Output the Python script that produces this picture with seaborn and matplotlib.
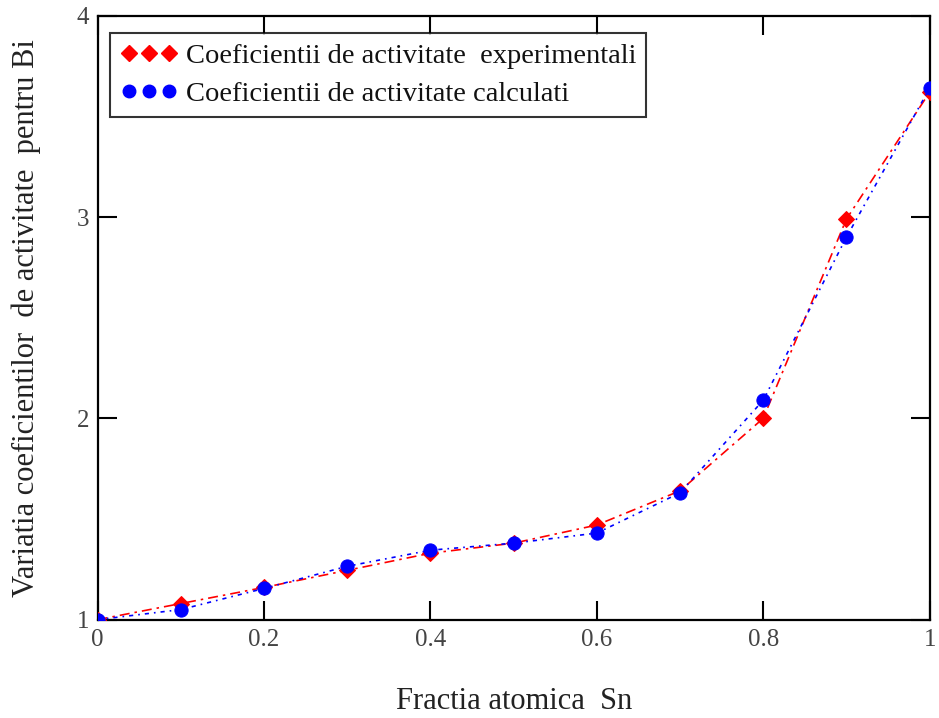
import matplotlib
matplotlib.use("Agg")
import matplotlib.pyplot as plt
import seaborn as sns
import pandas as pd
from matplotlib.lines import Line2D

# Data
fractia_sn = [0.0, 0.1, 0.2, 0.3, 0.4, 0.5, 0.6, 0.7, 0.8, 0.9, 1.0]
coef_experimentali = [1.00, 1.08, 1.16, 1.245, 1.33, 1.38, 1.47, 1.64, 2.00, 2.99, 3.62]
coef_calculati = [1.00, 1.05, 1.155, 1.265, 1.345, 1.38, 1.43, 1.63, 2.09, 2.90, 3.64]
x_ticks = [0, 0.2, 0.4, 0.6, 0.8, 1]
x_tick_labels = ["0", "0.2", "0.4", "0.6", "0.8", "1"]
y_ticks = [1, 2, 3, 4]
y_tick_labels = ["1", "2", "3", "4"]
label_exp = "Coeficientii de activitate  experimentali"
label_calc = "Coeficientii de activitate calculati"

sns.set_style("white")
plt.rcParams['font.family'] = ['Liberation Serif', 'DejaVu Serif']

fig = plt.figure(figsize=(9.39, 7.18), dpi=100)
ax = fig.add_axes([0.104, 0.137, 0.886, 0.841])

df = pd.DataFrame({"x": fractia_sn, "exp": coef_experimentali, "calc": coef_calculati})

sns.lineplot(data=df, x="x", y="exp", ax=ax, color="red", linewidth=1.2,
             linestyle=(0, (6, 3, 1.5, 3)), marker="D", markersize=8.5,
             markeredgecolor="red", markerfacecolor="red", legend=False, zorder=3)
sns.lineplot(data=df, x="x", y="calc", ax=ax, color="blue", linewidth=1.2,
             linestyle=(0, (2.5, 3, 1, 3)), marker="o", markersize=9.5,
             markeredgecolor="blue", markerfacecolor="blue", legend=False, zorder=4)

ax.set_xlim(0, 1)
ax.set_ylim(1, 4)
ax.set_xticks(x_ticks)
ax.set_xticklabels(x_tick_labels)
ax.set_yticks(y_ticks)
ax.set_yticklabels(y_tick_labels)
ax.tick_params(direction="in", length=14, width=1.5, top=True, right=True,
               bottom=True, left=True,
               labelsize=18, labelcolor="#444444", color="black")
ax.tick_params(axis="x", pad=7)
ax.tick_params(axis="y", pad=6)

for s in ax.spines.values():
    s.set_visible(True)
    s.set_color("black")
    s.set_linewidth(1.6)

ax.set_xlabel("Fractia atomica  Sn", fontsize=22, color="#222222", labelpad=26)
ax.set_ylabel("Variatia coeficientilor  de activitate  pentru Bi", fontsize=22,
              color="#222222", labelpad=26)

h1 = Line2D([], [], color="red", marker="D", markersize=8, linestyle="none")
h2 = Line2D([], [], color="blue", marker="o", markersize=9, linestyle="none")
leg = ax.legend([h1, h2], [label_exp, label_calc], loc="upper left",
                bbox_to_anchor=(0.015, 0.972), numpoints=3, fontsize=20.5,
                frameon=True, fancybox=False, shadow=False, edgecolor="black",
                handlelength=2.0, handletextpad=0.3, borderpad=0.35,
                borderaxespad=0.0, labelspacing=0.45, markerscale=1.0)
leg.get_frame().set_linewidth(1.5)
for t in leg.get_texts():
    t.set_color("#111111")

fig.savefig("out.png", dpi=100)
